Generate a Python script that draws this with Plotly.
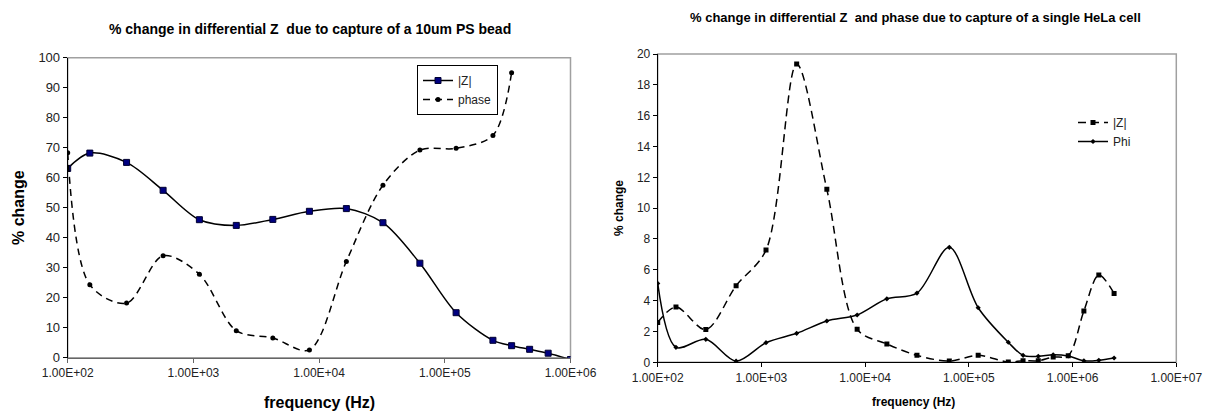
import plotly.graph_objects as go

# ---------------- Left chart: 10um PS bead ----------------
bead_z_freq = [100, 150, 294, 574, 1116, 2193, 4285, 8375, 16480, 32200,
               63350, 123000, 241500, 340000, 473000, 664000, 1000000]
bead_z_val = [63.1, 68.2, 65.1, 55.8, 46.0, 44.1, 46.1, 48.8, 49.7, 45.0,
              31.5, 15.0, 5.8, 4.0, 2.8, 1.5, -0.6]

bead_phase_freq = [100, 150, 294, 574, 1116, 2193, 4285, 8375, 16480, 32200,
                   63350, 123000, 241500, 340000]
bead_phase_val = [68.3, 24.3, 18.2, 34.0, 27.8, 9.0, 6.6, 2.6, 32.1, 57.5,
                  69.2, 69.8, 74.1, 95.0]

# ---------------- Right chart: single HeLa cell ----------------
hela_freq = [100, 150, 291, 570, 1107, 2187, 4273, 8375, 16200, 31600,
             64800, 123000, 240000, 333000, 467000, 650000, 908000,
             1285000, 1790000, 2513000]
hela_z_val = [2.59, 3.59, 2.12, 4.97, 7.28, 19.35, 11.22, 2.14, 1.19, 0.45,
              0.08, 0.45, 0.02, 0.10, 0.10, 0.34, 0.43, 3.33, 5.66, 4.47]
hela_phi_val = [5.12, 0.97, 1.49, 0.08, 1.27, 1.88, 2.68, 3.07, 4.12, 4.49,
                7.46, 3.54, 1.30, 0.45, 0.39, 0.49, 0.41, 0.10, 0.13, 0.28]

left_ticks = [1e2, 1e3, 1e4, 1e5, 1e6]
left_ticktext = ["1.00E+02", "1.00E+03", "1.00E+04", "1.00E+05", "1.00E+06"]
right_ticks = [1e2, 1e3, 1e4, 1e5, 1e6, 1e7]
right_ticktext = ["1.00E+02", "1.00E+03", "1.00E+04", "1.00E+05", "1.00E+06", "1.00E+07"]

W, H = 1210, 414
FONT = "Liberation Sans, Arial, sans-serif"

fig = go.Figure()

fig.add_trace(go.Scatter(
    x=bead_z_freq, y=bead_z_val, name="|Z|", mode="lines+markers",
    line=dict(color="black", width=1.5, shape="spline", smoothing=0.9),
    marker=dict(symbol="square", size=6, color="#000080",
                line=dict(color="#000030", width=1)),
    xaxis="x", yaxis="y", legend="legend"))
fig.add_trace(go.Scatter(
    x=bead_phase_freq, y=bead_phase_val, name="phase", mode="lines+markers",
    line=dict(color="black", width=1.5, dash="7px,5px", shape="spline", smoothing=0.9),
    marker=dict(symbol="circle", size=5, color="black"),
    xaxis="x", yaxis="y", legend="legend"))

fig.add_trace(go.Scatter(
    x=hela_freq, y=hela_z_val, name="|Z|", mode="lines+markers",
    line=dict(color="black", width=1.5, dash="8px,5px", shape="spline", smoothing=0.9),
    marker=dict(symbol="square", size=5, color="black"),
    xaxis="x2", yaxis="y2", legend="legend2"))
fig.add_trace(go.Scatter(
    x=hela_freq, y=hela_phi_val, name="Phi", mode="lines+markers",
    line=dict(color="black", width=1.5, shape="spline", smoothing=0.9),
    marker=dict(symbol="diamond", size=4, color="black"),
    xaxis="x2", yaxis="y2", legend="legend2"))

lx0, lx1 = 67.7 / W, 570.5 / W
ly0, ly1 = 1 - 357.7 / H, 1 - 57.7 / H
rx0, rx1 = 657.7 / W, 1176.3 / W
ry0, ry1 = 1 - 362.3 / H, 1 - 54 / H

tickfont = dict(family=FONT, size=12, color="#222")

common = dict(showgrid=False, zeroline=False, showline=True, linewidth=1,
              ticks="outside", ticklen=4, automargin=False)

fig.update_layout(
    width=W, height=H, autosize=False,
    margin=dict(l=0, r=0, t=0, b=0, autoexpand=False),
    paper_bgcolor="white", plot_bgcolor="white",
    font=dict(family=FONT, color="black"),
    xaxis=dict(type="log", range=[2, 6], domain=[lx0, lx1], anchor="y",
               tickvals=left_ticks, ticktext=left_ticktext, tickfont=tickfont,
               linecolor="#666", tickcolor="#666", **common),
    yaxis=dict(range=[0, 100], domain=[ly0, ly1], anchor="x",
               tickvals=list(range(0, 101, 10)),
               tickfont=dict(family=FONT, size=13, color="#222"),
               linecolor="black", tickcolor="black", **common),
    xaxis2=dict(type="log", range=[2, 7], domain=[rx0, rx1], anchor="y2",
                tickvals=right_ticks, ticktext=right_ticktext, tickfont=tickfont,
                linecolor="black", tickcolor="black", **common),
    yaxis2=dict(range=[0, 20], domain=[ry0, ry1], anchor="x2",
                tickvals=list(range(0, 21, 2)), tickfont=tickfont,
                linecolor="black", tickcolor="black", **common),
    legend=dict(x=417 / W, y=1 - 65 / H, xanchor="left", yanchor="top",
                bgcolor="white", bordercolor="black", borderwidth=1,
                font=dict(family=FONT, size=12, color="#222"),
                tracegroupgap=0, itemwidth=30),
    legend2=dict(x=1073 / W, y=1 - 108 / H, xanchor="left", yanchor="top",
                 bgcolor="rgba(0,0,0,0)", borderwidth=0,
                 font=dict(family=FONT, size=12, color="#222"),
                 tracegroupgap=0, itemwidth=30),
    showlegend=True,
)

# plot-area gray borders
for xr, yr in (("x domain", "y domain"), ("x2 domain", "y2 domain")):
    fig.add_shape(type="rect", xref=xr, yref=yr, x0=0, x1=1, y0=0, y1=1,
                  line=dict(color="#a0a0a0", width=1.5), layer="below")

ann = [
    dict(text="<b>% change in differential Z  due to capture of a 10um PS bead</b>",
         x=310 / W, y=1 - 29 / H, size=14),
    dict(text="<b>% change in differential Z  and phase due to capture of a single HeLa cell</b>",
         x=915 / W, y=1 - 18 / H, size=13),
    dict(text="<b>% change</b>", x=18 / W, y=1 - 208 / H, textangle=-90, size=16),
    dict(text="<b>frequency (Hz)</b>", x=319 / W, y=1 - 402 / H, size=16),
    dict(text="<b>% change</b>", x=619 / W, y=1 - 208 / H, textangle=-90, size=12),
    dict(text="<b>frequency (Hz)</b>", x=914 / W, y=1 - 402 / H, size=12),
]
for a in ann:
    fig.add_annotation(xref="paper", yref="paper", showarrow=False,
                       xanchor="center", yanchor="middle",
                       font=dict(family=FONT, color="black", size=a["size"]),
                       text=a["text"], x=a["x"], y=a["y"],
                       textangle=a.get("textangle", 0))

fig.write_html(
    "out.html",
    config={"displayModeBar": False},
    post_script="document.body.style.margin='0px';document.body.style.overflow='hidden';",
)
